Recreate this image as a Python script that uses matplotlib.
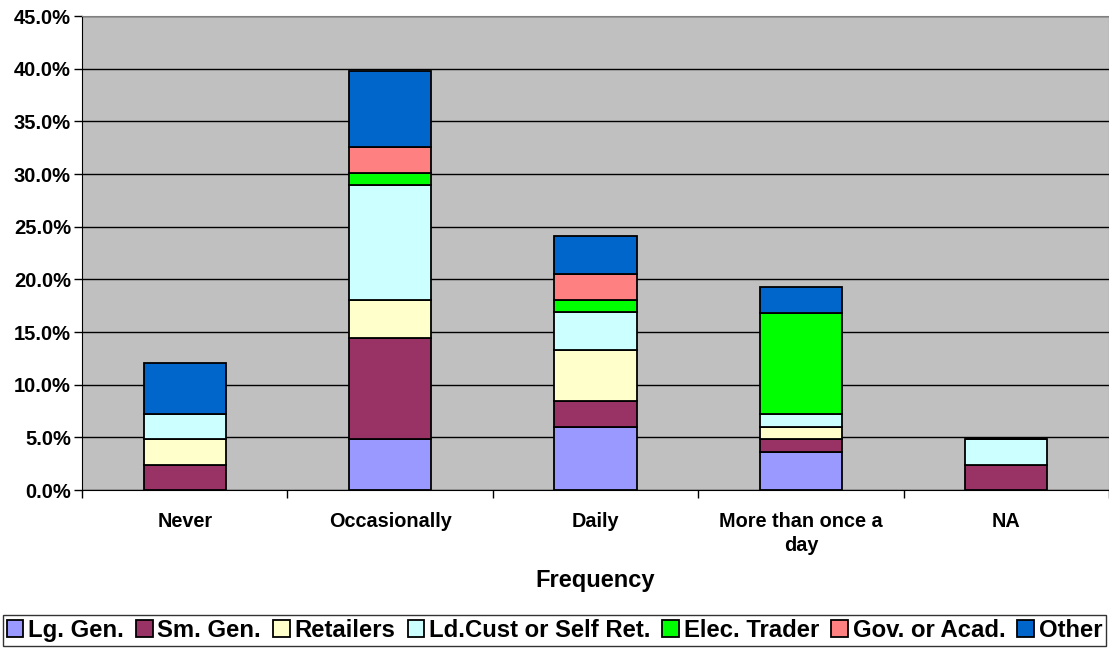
import matplotlib.pyplot as plt
import numpy as np

plt.rcParams['font.family'] = ['Liberation Sans', 'DejaVu Sans']
plt.rcParams['font.weight'] = 'bold'

# data (percent of respondents)
categories = ['Never', 'Occasionally', 'Daily', 'More than once a\nday', 'NA']
series_names = ['Lg. Gen.', 'Sm. Gen.', 'Retailers', 'Ld.Cust or Self Ret.',
                'Elec. Trader', 'Gov. or Acad.', 'Other']
lg_gen = [0.0, 4.82, 6.02, 3.61, 0.0]
sm_gen = [2.41, 9.64, 2.41, 1.20, 2.41]
retailers = [2.41, 3.61, 4.82, 1.20, 0.0]
ld_cust = [2.41, 10.84, 3.61, 1.20, 2.41]
elec_trader = [0.0, 1.20, 1.20, 9.64, 0.0]
gov_acad = [0.0, 2.41, 2.41, 0.0, 0.0]
other = [4.82, 7.23, 3.61, 2.41, 0.0]
y_ticks = [0, 5, 10, 15, 20, 25, 30, 35, 40, 45]

colors = ['#9999FF', '#993366', '#FFFFCC', '#CCFFFF', '#00FF00', '#FF8080', '#0066CC']
series = [lg_gen, sm_gen, retailers, ld_cust, elec_trader, gov_acad, other]

fig = plt.figure(figsize=(11.09, 6.48), dpi=100)
ax = fig.add_axes([82/1109, 158/648, 1027/1109, 474/648])
ax.set_facecolor('#C0C0C0')

x = np.arange(len(categories))
bottom = np.zeros(len(categories))
handles = []
for vals, name, col in zip(series, series_names, colors):
    vals = np.array(vals)
    b = ax.bar(x, vals, width=0.4, bottom=bottom, color=col,
               edgecolor='black', linewidth=1.3, label=name, zorder=3)
    handles.append(b)
    bottom += vals

ax.set_xlim(-0.5, len(categories) - 0.5)
ax.set_ylim(0, 45)
ax.set_yticks(y_ticks)
ax.set_yticklabels([f'{t:.1f}%' for t in y_ticks], fontsize=14.5, fontweight='bold')
ax.yaxis.grid(True, color='black', linewidth=1, zorder=0)
ax.set_axisbelow(True)

ax.set_xticks(x)
ax.set_xticklabels(categories, fontsize=14.3, fontweight='bold', linespacing=1.3)
ax.tick_params(axis='x', length=0, pad=16)
ax.tick_params(axis='y', length=6, width=1, pad=2)
# category separator ticks
ax.set_xticks(np.arange(-0.5, len(categories)), minor=True)
ax.tick_params(axis='x', which='minor', length=6, width=1)

ax.set_xlabel('Frequency', fontsize=17, fontweight='bold', labelpad=10)

for side in ['top', 'right']:
    ax.spines[side].set_color('#808080')
ax.spines['left'].set_color('black')
ax.spines['bottom'].set_color('black')

leg = fig.legend(handles=handles, labels=series_names, loc='lower center',
                 bbox_to_anchor=(0.5, 0.0), ncol=7, fontsize=17.2,
                 handlelength=0.7, handleheight=0.7, handletextpad=0.2,
                 columnspacing=0.5, frameon=True, fancybox=False,
                 borderpad=0.15, borderaxespad=0.1)
leg.get_frame().set_edgecolor('black')
leg.get_frame().set_linewidth(1)
for t in leg.get_texts():
    t.set_fontweight('bold')

fig.savefig('out.png', dpi=100)
